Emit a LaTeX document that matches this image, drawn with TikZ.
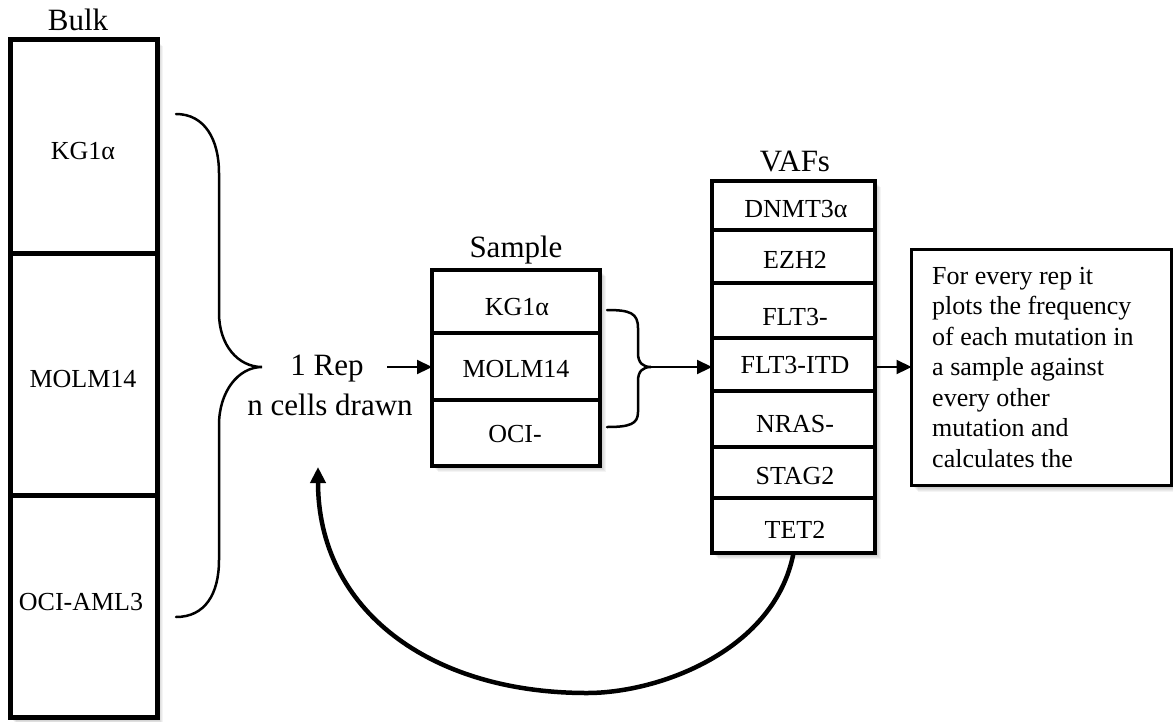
\documentclass[tikz,border=0pt]{standalone}
\usepackage{fontspec}
\setmainfont{Liberation Serif}
\usetikzlibrary{arrows.meta,backgrounds}
\begin{document}
\begin{tikzpicture}[x=1pt,y=-1pt,
  cellbox/.style={draw, fill=white, inner sep=0pt, outer sep=0pt},
  bulkcell/.style={cellbox, line width=5pt, minimum width=147},
  samplecell/.style={cellbox, line width=4.6pt, minimum width=168},
  vafcell/.style={cellbox, line width=4.6pt, minimum width=163},
  lbl/.style={font=\fontsize{26}{30}\selectfont, inner sep=0pt, anchor=base},
  head/.style={font=\fontsize{31}{36}\selectfont, inner sep=0pt, anchor=base},
  arr/.style={line width=2.2pt, -{Triangle[length=15pt,width=14pt]}},
  bracestyle/.style={line width=2.5pt, line cap=round}
]
\useasboundingbox (0,0) rectangle (1173,721);

% soft shadows
\begin{scope}[on background layer]
\foreach \a/\b/\c/\d in {10/39.5/157/717.5, 432/270/600/466, 712/181/875/553, 911.5/249.5/1171.5/485.5}{
  \foreach \i in {1,...,6}
    \fill[black, opacity=0.045] (\a+\i,\b+\i) rectangle (\c+\i,\d+\i);
}
\end{scope}

% Bulk
\node[head] (bulkhead) at (78,30) {Bulk};
\node[bulkcell, minimum height=214]   (b1) at (83.5,146.5) {};
\node[bulkcell, minimum height=241.5] (b2) at (83.5,374.25) {};
\node[bulkcell, minimum height=222.5] (b3) at (83.5,606.25) {};
\node[lbl] (b1t) at (83,159) {KG1α};
\node[lbl] (b2t) at (83,387) {MOLM14};
\node[lbl] (b3t) at (81,610) {OCI-AML3};

% big brace
\coordinate (btip) at (262,367);
\draw[bracestyle] (176,114) .. controls (205,114) and (219,140) .. (219,173)
  -- (219,313) .. controls (219,345) and (238,367) .. (btip)
  .. controls (238,367) and (219,392) .. (219,425)
  -- (219,560) .. controls (219,594) and (205,617) .. (176,617);

% Rep text
\node[head] (rep) at (327,375) {1 Rep};
\node[head] (cells) at (330,415) {n cells drawn};

% Sample
\node[head] (samplehead) at (516,257) {Sample};
\node[samplecell, minimum height=63] (s1) at (516,301.5) {};
\node[samplecell, minimum height=67] (s2) at (516,366.5) {};
\node[samplecell, minimum height=66] (s3) at (516,433) {};
\node[lbl] (s1t) at (517,315) {KG1α};
\node[lbl] (s2t) at (516,377) {MOLM14};
\node[lbl] (s3t) at (515,442) {OCI-};

\coordinate (reptail) at (387,367);
\draw[arr] (reptail) -- (reptail -| s2.west);

% small brace
\coordinate (stip) at (651,367);
\draw[bracestyle] (607,310) .. controls (630,310) and (638,313) .. (638,328)
  -- (638,353) .. controls (638,363) and (643,367) .. (stip)
  .. controls (643,367) and (638,371) .. (638,381)
  -- (638,412) .. controls (638,424) and (630,427) .. (607,427);

% VAFs
\node[head] (vafhead) at (795,171) {VAFs};
\node[vafcell, minimum height=49]  (v1) at (793.5,205.5) {};
\node[vafcell, minimum height=53]  (v2) at (793.5,256.5) {};
\node[vafcell, minimum height=55]  (v3) at (793.5,310.5) {};
\node[vafcell, minimum height=53]  (v4) at (793.5,364.5) {};
\node[vafcell, minimum height=56]  (v5) at (793.5,419) {};
\node[vafcell, minimum height=51]  (v6) at (793.5,472.5) {};
\node[vafcell, minimum height=55]  (v7) at (793.5,525.5) {};
\node[lbl] (v1t) at (796,217) {DNMT3α};
\node[lbl] (v2t) at (795,268) {EZH2};
\node[lbl] (v3t) at (795,325) {FLT3-};
\node[lbl] (v4t) at (795,373) {FLT3-ITD};
\node[lbl] (v5t) at (795,432) {NRAS-};
\node[lbl] (v6t) at (795,484) {STAG2};
\node[lbl] (v7t) at (795,538) {TET2};

\draw[arr] (stip) -- (stip -| v4.west);

% note box
\node[draw, fill=white, line width=3.3pt, inner sep=0pt, outer sep=0pt,
      minimum width=260, minimum height=236] (note) at (1041.5,367.5) {};
\node[anchor=north west, align=left, inner sep=0pt,
      font=\fontsize{26}{30.5}\selectfont] (notetext) at (932,267)
  {For every rep it\\plots the frequency\\of each mutation in\\a sample against\\every other\\mutation and\\calculates the};

\draw[arr] (v4.east |- stip) -- (stip -| note.west);

% loop-back arrow
\coordinate (loopend) at (318,467);
\draw[line width=4.5pt, -{Triangle[length=16pt,width=15pt]}] (v7.south)
  .. controls (775,650) and (660,693) .. (587,693)
  .. controls (430,693) and (318,610) .. (loopend);
\end{tikzpicture}
\end{document}
